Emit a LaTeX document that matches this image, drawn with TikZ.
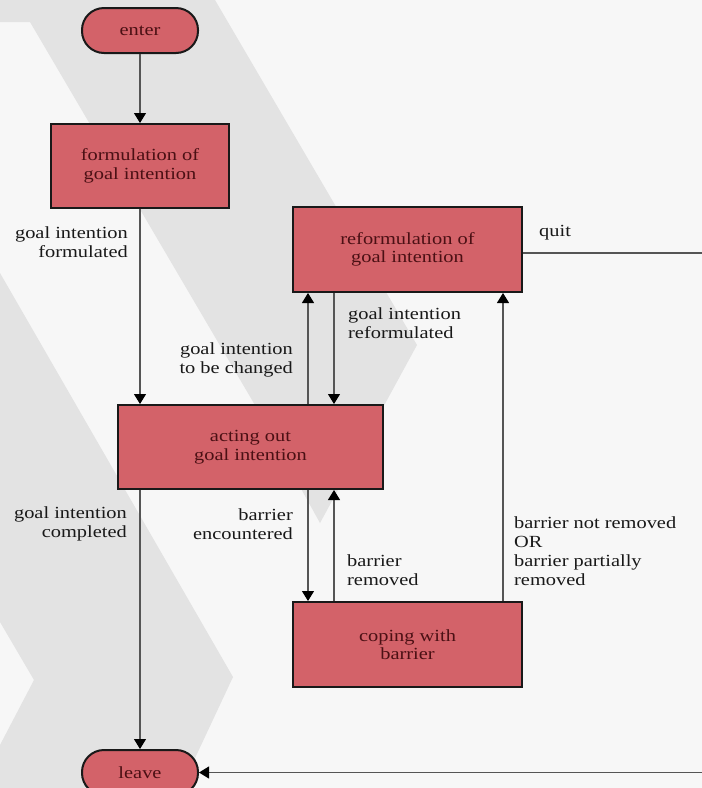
\documentclass[tikz,border=0pt]{standalone}
\usepackage{fontspec}
\newfontfamily\lblfont[FakeStretch=1.2]{Liberation Serif}
\usetikzlibrary{arrows.meta}
\definecolor{bgc}{RGB}{247,247,247}
\definecolor{chev}{RGB}{227,227,227}
\definecolor{boxfill}{RGB}{211,98,105}
\definecolor{boxtext}{RGB}{75,16,20}
\definecolor{linec}{RGB}{85,85,85}
\tikzset{
  statebox/.style={draw=black!90, line width=2pt, fill=boxfill, text=boxtext,
    align=center, font={\fontsize{17}{18.5}\lblfont}, inner sep=0pt},
  terminal/.style={statebox, rounded corners=22pt, minimum width=116pt, minimum height=45pt},
  lbl/.style={inner sep=0pt, font={\fontsize{17}{19}\lblfont}, text=black!90},
  arr/.style={draw=linec, line width=1.1pt, -{Triangle[width=12pt,length=10pt,color=black]}},
}
\begin{document}
\begin{tikzpicture}[x=1pt,y=-1pt]
\clip (0,0) rectangle (702,788);
% background
\fill[bgc] (0,0) rectangle (702,788);
\fill[chev] (0,0) -- (215,0) -- (417,345) -- (320,523) -- (252,400) -- (30,22) -- (0,22) -- cycle;
\fill[chev] (0,273) -- (233,677) -- (181,788) -- (0,788) -- (0,745) -- (34,680) -- (0,622) -- cycle;

% nodes
\node[terminal] (enter) at (140,30.5) {enter};
\node[statebox, minimum width=178pt, minimum height=84pt] (form) at (140,166) {formulation of\\goal intention};
\node[statebox, minimum width=229pt, minimum height=85pt] (reform) at (407.5,249.5) {reformulation of\\goal intention};
\node[statebox, minimum width=265pt, minimum height=84pt] (acting) at (250.5,447) {acting out\\goal intention};
\node[statebox, minimum width=229pt, minimum height=85pt] (coping) at (407.5,644.5) {coping with\\barrier};
\node[terminal] (leave) at (140,772.5) {leave};

% helper coordinates
\coordinate (xa) at (308,0);
\coordinate (xb) at (334,0);
\coordinate (xc) at (503,0);
\coordinate (qr) at (730,253);

% connectors
\draw[arr] (enter) -- (form);
\draw[arr] (form) -- (form |- acting.north);
\draw[arr] (acting.south -| form) -- (leave);
\draw[arr] (acting.north -| xa) -- (reform.south -| xa);
\draw[arr] (reform.south -| xb) -- (acting.north -| xb);
\draw[arr] (acting.south -| xa) -- (coping.north -| xa);
\draw[arr] (coping.north -| xb) -- (acting.south -| xb);
\draw[arr] (coping.north -| xc) -- (reform.south -| xc);
\draw[arr] (reform.east |- qr) -- (qr) |- (leave.east);

% labels
\node[lbl, align=right, anchor=east] (l1) at (128,242.5) {goal intention\\formulated};
\node[lbl, align=right, anchor=east] (l2) at (293,359.5) {goal intention\\to be changed};
\node[lbl, align=left, anchor=west] (l3) at (348,323.5) {goal intention\\reformulated};
\node[lbl, anchor=west] (l4) at (539,233) {quit};
\node[lbl, align=right, anchor=east] (l5) at (127,524) {goal intention\\completed};
\node[lbl, align=right, anchor=east] (l6) at (293,524) {barrier\\encountered};
\node[lbl, align=left, anchor=west] (l7) at (347,570) {barrier\\removed};
\node[lbl, align=left, anchor=west] (l8) at (514,551.5) {barrier not removed\\OR\\barrier partially\\removed};
\end{tikzpicture}
\end{document}
